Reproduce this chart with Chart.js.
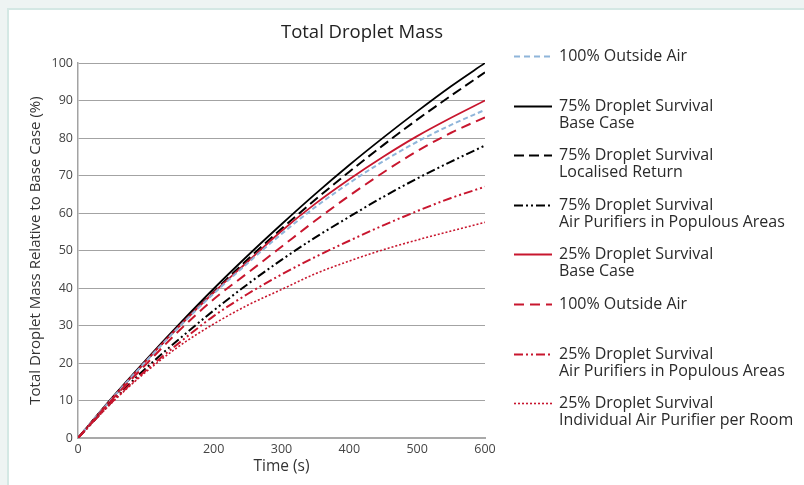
<!DOCTYPE html>
<html>
<head>
<meta charset="utf-8">
<script src="https://cdn.jsdelivr.net/npm/chart.js@4.4.1/dist/chart.umd.min.js"></script>
<style>
  html, body { margin:0; padding:0; width:804px; height:485px; overflow:hidden; background:#eef4f3; }
  #panel { position:absolute; left:7px; top:8px; width:820px; height:500px; background:#ffffff; border:2px solid #d4e8e4; box-sizing:border-box; }
  #c { position:absolute; left:0; top:0; }
</style>
</head>
<body>
<div id="panel"></div>
<canvas id="c" width="804" height="485"></canvas>
<script>
// ---- data ----
const timeSeconds = [0, 50, 100, 150, 200, 250, 300, 350, 400, 450, 500, 550, 600];

const oa100Blue        = [0, 10.5, 20.4, 29.8, 38.5, 46.6, 54.4, 61.6, 68.0, 73.8, 79.0, 83.5, 87.5];
const s75BaseCase      = [0, 10.7, 20.8, 30.5, 39.8, 48.6, 57.0, 65.1, 72.8, 80.1, 87.1, 93.8, 100.0];
const s75Localised     = [0, 10.5, 20.5, 30.0, 39.0, 47.6, 55.8, 63.6, 71.0, 78.1, 84.9, 91.3, 97.5];
const s75Purifiers     = [0, 9.7, 18.6, 26.5, 34.0, 41.0, 47.5, 53.5, 59.0, 64.3, 69.2, 73.7, 78.0];
const s25BaseCase      = [0, 10.5, 20.5, 30.0, 38.8, 47.0, 55.2, 62.5, 69.0, 75.0, 80.5, 85.4, 90.0];
const s25OutsideAir    = [0, 10.2, 19.6, 28.8, 37.0, 44.0, 51.0, 58.0, 64.6, 70.8, 76.5, 81.4, 85.5];
const s25Purifiers     = [0, 9.6, 18.0, 25.5, 32.5, 38.4, 43.6, 48.3, 52.6, 56.7, 60.5, 64.0, 67.0];
const s25Individual    = [0, 9.4, 17.6, 24.6, 30.4, 35.4, 39.6, 43.8, 47.2, 50.2, 52.8, 55.2, 57.5];

const legendLabels = [
  ["100% Outside Air"],
  ["75% Droplet Survival", "Base Case"],
  ["75% Droplet Survival", "Localised Return"],
  ["75% Droplet Survival", "Air Purifiers in Populous Areas"],
  ["25% Droplet Survival", "Base Case"],
  ["100% Outside Air"],
  ["25% Droplet Survival", "Air Purifiers in Populous Areas"],
  ["25% Droplet Survival", "Individual Air Purifier per Room"]
];
const xTickLabels = [0, 200, 300, 400, 500, 600];
const yTickValues = [0, 10, 20, 30, 40, 50, 60, 70, 80, 90, 100];
// --------------------------------------

const RED = '#c8162e', BLUE = '#8fb5da', BLACK = '#000000';
const FONT = '"Open Sans", "DejaVu Sans", sans-serif';

function pts(arr) { return timeSeconds.map((t, i) => ({x: t, y: arr[i]})); }

const seriesDefs = [
  {data: oa100Blue,     color: BLUE,  width: 2,   dash: [5, 3],                 legendDash: [6, 4]},
  {data: s75BaseCase,   color: BLACK, width: 1.8, dash: [],                     legendDash: []},
  {data: s75Localised,  color: BLACK, width: 2,   dash: [10, 5],                legendDash: [10, 5]},
  {data: s75Purifiers,  color: BLACK, width: 2,   dash: [9, 3, 2, 3, 2, 3],     legendDash: [9, 3, 2, 3, 2, 3]},
  {data: s25BaseCase,   color: RED,   width: 1.8, dash: [],                     legendDash: []},
  {data: s25OutsideAir, color: RED,   width: 2,   dash: [10, 6],                legendDash: [10, 6]},
  {data: s25Purifiers,  color: RED,   width: 2,   dash: [9, 3, 2, 3, 2, 3],     legendDash: [9, 3, 2, 3, 2, 3]},
  {data: s25Individual, color: RED,   width: 1.6, dash: [2, 2],                 legendDash: [2, 2]}
];

const datasets = seriesDefs.map((s, i) => ({
  label: legendLabels[i].join(' '),
  data: pts(s.data),
  borderColor: s.color,
  borderWidth: s.width,
  borderDash: s.dash,
  legendDash: s.legendDash,
  pointRadius: 0,
  fill: false,
  cubicInterpolationMode: 'monotone'
}));
const drawOrder = [7, 6, 5, 3, 0, 4, 2, 1];
datasets.forEach((d, i) => { d.order = drawOrder.indexOf(i); });

const customPlugin = {
  id: 'custom',
  afterDraw(chart) {
    const ctx = chart.ctx;
    ctx.save();
    ctx.fillStyle = '#222';
    ctx.font = '18.5px ' + FONT;
    ctx.textAlign = 'center';
    ctx.textBaseline = 'middle';
    ctx.fillText('Total Droplet Mass', 362, 33);
    const x0 = 514, x1 = 552, tx = 559, y0 = 56, step = 49.6, lh = 17;
    ctx.font = '16px ' + FONT;
    ctx.textAlign = 'left';
    chart.data.datasets.forEach((d, i) => {
      const y = Math.round(y0 + i * step) + 0.5;
      ctx.beginPath();
      ctx.setLineDash(d.legendDash);
      ctx.strokeStyle = d.borderColor;
      ctx.lineWidth = d.borderWidth;
      ctx.moveTo(x0, y);
      ctx.lineTo(x1, y);
      ctx.stroke();
      ctx.setLineDash([]);
      ctx.fillStyle = '#2a2a2a';
      legendLabels[i].forEach((line, k) => ctx.fillText(line, tx, y + k * lh));
    });
    ctx.restore();
  }
};

new Chart(document.getElementById('c'), {
  type: 'line',
  data: { datasets },
  plugins: [customPlugin],
  options: {
    responsive: false,
    animation: false,
    devicePixelRatio: 1,
    layout: { padding: { left: 0, top: 63, right: 319, bottom: 0 } },
    plugins: { legend: { display: false }, title: { display: false }, tooltip: { enabled: false } },
    scales: {
      x: {
        type: 'linear', min: 0, max: 600,
        afterFit: s => { s.height = 47; },
        afterBuildTicks: s => { s.ticks = [0,100,200,300,400,500,600].map(v => ({value: v})); },
        ticks: {
          padding: 4, color: '#444', font: { family: FONT, size: 12.5 }, maxRotation: 0,
          callback: v => xTickLabels.includes(v) ? String(v) : ''
        },
        grid: { display: true, color: 'rgba(0,0,0,0)', drawTicks: false, tickLength: 0 },
        border: { display: true, color: '#a9a9a9', width: 2 },
        title: { display: true, text: 'Time (s)', color: '#333', font: { family: FONT, size: 15.5 }, padding: { top: 0, bottom: 9 } }
      },
      y: {
        type: 'linear', min: 0, max: 100,
        afterFit: s => { s.width = 78; },
        afterBuildTicks: s => { s.ticks = yTickValues.map(v => ({value: v})); },
        ticks: { padding: 5, color: '#444', font: { family: FONT, size: 12.5 } },
        grid: { color: '#a3a3a3', lineWidth: 1, drawTicks: false, tickLength: 0 },
        border: { display: true, color: '#a3a3a3', width: 1.5 },
        title: { display: true, text: 'Total Droplet Mass Relative to Base Case (%)', color: '#333', font: { family: FONT, size: 15 }, padding: { top: 27, bottom: 0 } }
      }
    }
  }
});
</script>
</body>
</html>
